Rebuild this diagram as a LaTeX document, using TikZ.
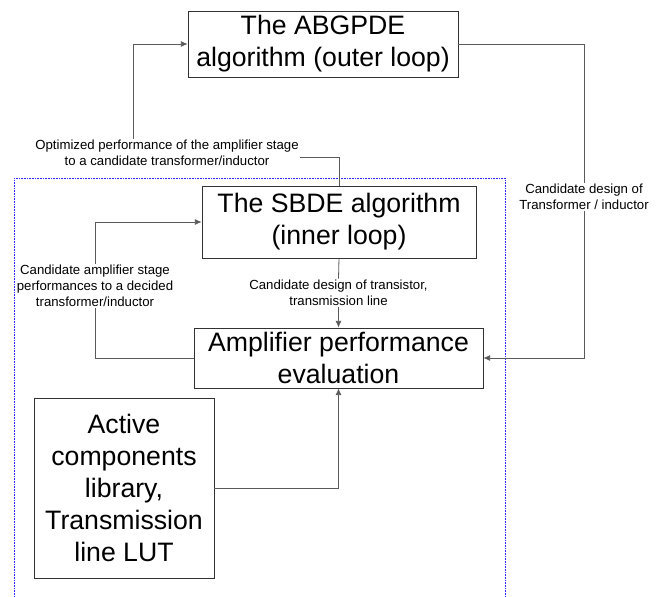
\documentclass[tikz,border=0pt]{standalone}
\usepackage{fontspec}
\setmainfont{Liberation Sans}
\usetikzlibrary{arrows.meta}

\tikzset{
  algbox/.style={draw={rgb,255:red,50;green,50;blue,50}, line width=0.6pt, align=center, inner sep=0pt,
    font=\fontsize{20}{24}\selectfont},
  smalltxt/.style={align=center, inner sep=1pt, font=\fontsize{9.9}{12}\selectfont},
  link/.style={draw={rgb,255:red,90;green,90;blue,90}, line width=0.6pt},
  flow/.style={link, -{Latex[length=5pt,width=4.5pt]}},
}

\begin{document}
\begin{tikzpicture}[x=0.75pt,y=0.75pt,yscale=-1,xscale=1]
\useasboundingbox (0,0) rectangle (662,597);

%Shape: Dashed frame
\draw [color={rgb, 255:red, 40; green, 40; blue, 255 }, line width=0.6pt, dash pattern=on 1.2pt off 0.8pt]
  (14,600) -- (14,178) -- (505,178) -- (505,600) ;

% Boxes
\node [algbox, minimum width=270*0.75pt, minimum height=66*0.75pt] (abgpde) at (323,44)
  {The ABGPDE\\algorithm (outer loop)};
\node [algbox, minimum width=274*0.75pt, minimum height=72*0.75pt] (sbde) at (339,222)
  {The SBDE algorithm\\(inner loop)};
\node [algbox, minimum width=289*0.75pt, minimum height=60*0.75pt] (amp) at (338.5,358)
  {Amplifier performance\\evaluation};
\node [algbox, minimum width=180*0.75pt, minimum height=180*0.75pt] (lib) at (124,488)
  {Active\\components\\library,\\Transmission\\line LUT};

% Text Node
\node [smalltxt] (optlbl) at (167,153) {Optimized performance of the amplifier stage\\to a candidate transformer/inductor};
% Text Node
\node [smalltxt] (xfmlbl) at (584,197) {Candidate design of\\Transformer / inductor};
% Text Node
\node [smalltxt] (trlbl) at (338.5,293) {Candidate design of transistor,\\transmission line};
% Text Node
\node [smalltxt] (cndlbl) at (95,286) {Candidate amplifier stage\\performances to a decided\\transformer/inductor};

\path (optlbl.north) ++(-34,0) coordinate (optup);
\path (optlbl.east) ++(0,4) coordinate (opteast);

% Outer loop
\draw [flow] (optup) |- (abgpde.west) ;
\draw [link] (sbde.north) |- (opteast) ;
\draw [link] (abgpde.east) -| (xfmlbl.north) ;
\draw [flow] (xfmlbl.south) |- (amp.east) ;

% Inner loop
\draw [link] (sbde.south) -- (trlbl.north) ;
\draw [flow] (trlbl.south) -- (amp.north) ;
\draw [link] (amp.west) -| (cndlbl.south) ;
\draw [flow] (cndlbl.north) |- (sbde.west) ;

% Library
\draw [flow] (lib.east) -| (amp.south) ;

\end{tikzpicture}
\end{document}
